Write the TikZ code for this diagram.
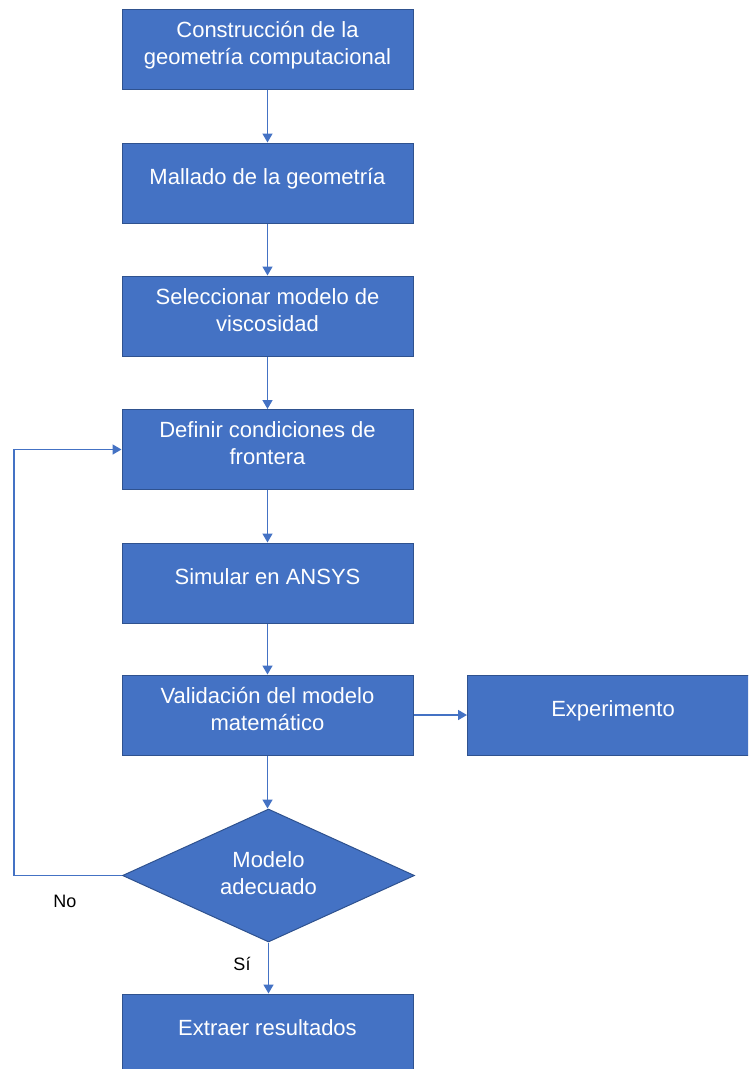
\documentclass[tikz,border=0pt]{standalone}
\usepackage{fontspec}
\setmainfont{Liberation Sans}
\usetikzlibrary{shapes.geometric,arrows.meta}
\definecolor{boxfill}{HTML}{4472C4}
\definecolor{boxedge}{HTML}{2F528F}
\definecolor{arrowcol}{HTML}{4472C4}
\newcommand{\boxtext}[2][3.5pt]{\raisebox{#1}[\height][\depth]{\begin{tabular}{@{}c@{}}#2\end{tabular}}}
\tikzset{
  stepbox/.style={rectangle, draw=boxedge, line width=1pt, fill=boxfill, text=white,
    minimum width=291pt, minimum height=80pt, inner sep=0pt,
    font=\fontsize{22}{27}\selectfont},
  decision/.style={diamond, draw=boxedge, line width=1pt, fill=boxfill, text=white,
    minimum width=292pt, minimum height=133pt, shape aspect=2.2, inner sep=0pt,
    font=\fontsize{22}{27}\selectfont},
  arr/.style={draw=arrowcol, line width=1.6pt, -{Triangle[length=9pt,width=10pt]}},
  lbl/.style={text=black, font=\fontsize{18}{22}\selectfont, inner sep=0pt}
}
\begin{document}
\begin{tikzpicture}[x=1pt,y=-1pt]
\clip (0,0) rectangle (748,1069);
\node[stepbox] (b1) at (267.5,49) {\boxtext{Construcción de la\\geometría computacional}};
\node[stepbox] (b2) at (267.5,183) {\boxtext{Mallado de la geometría}};
\node[stepbox] (b3) at (267.5,316) {\boxtext{Seleccionar modelo de\\viscosidad}};
\node[stepbox] (b4) at (267.5,449.5) {\boxtext{Definir condiciones de\\frontera}};
\node[stepbox] (b5) at (267.5,583) {\boxtext{Simular en ANSYS}};
\node[stepbox] (b6) at (267.5,715) {\boxtext{Validación del modelo\\matemático}};
\node[stepbox] (exp) at (613,715) {\boxtext{Experimento}};
\node[decision] (dia) at (268.5,875.5) {\boxtext[0pt]{Modelo\\adecuado}};
\node[stepbox] (b7) at (267.5,1034) {\boxtext{Extraer resultados}};
\coordinate (loop) at (14,875.5);
\draw[arr] (b1) -- (b2);
\draw[arr] (b2) -- (b3);
\draw[arr] (b3) -- (b4);
\draw[arr] (b4) -- (b5);
\draw[arr] (b5) -- (b6);
\draw[arr] (b6.south) -- (b6.south |- dia.north);
\draw[arr] (b6.east) -- (exp.west);
\draw[arr] (dia.south) -- (dia.south |- b7.north);
\draw[arr] (dia.west) -- (loop) |- (b4.west);
\node[lbl] (no) at (65,901) {No};
\node[lbl] (si) at (242,964) {Sí};
\end{tikzpicture}
\end{document}
